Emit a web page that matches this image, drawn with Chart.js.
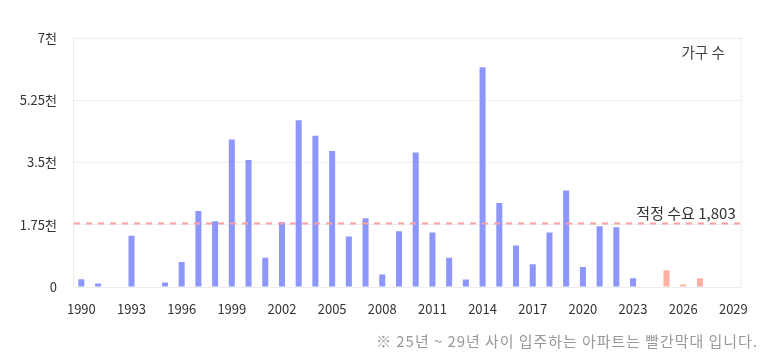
<!DOCTYPE html>
<html>
<head>
<meta charset="utf-8">
<script src="https://cdn.jsdelivr.net/npm/chart.js@4.4.1/dist/chart.umd.min.js"></script>
<style>
html,body{margin:0;padding:0;background:#fff;}
#wrap{width:762px;height:361px;position:relative;}
</style>
</head>
<body>
<div id="wrap"><canvas id="c" width="762" height="361"></canvas></div>
<script>
const years = [];
for (let y = 1990; y <= 2029; y++) years.push(String(y));

const pastSupply = [220, 95, 0, 1441, 0, 130, 700, 2140, 1850, 4150,
  3570, 820, 1820, 4690, 4250, 3820, 1420, 1930, 350, 1570,
  3780, 1530, 820, 210, 6180, 2360, 1170, 640, 1530, 2710,
  560, 1710, 1680, 245, 0, null, null, null, null, null];
const futureSupply = [null, null, null, null, null, null, null, null, null, null,
  null, null, null, null, null, null, null, null, null, null,
  null, null, null, null, null, null, null, null, null, null,
  null, null, null, null, null, 470, 70, 245, 0, 0];

const yTicks = [0, 1750, 3500, 5250, 7000];
const yTickLabels = ['0', '1.75천', '3.5천', '5.25천', '7천'];
const demand = 1803;
const demandLabel = '적정 수요 1,803';
const unitLabel = '가구 수';
const footnote = '※ 25년 ~ 29년 사이 입주하는 아파트는 빨간막대 입니다.';

const FONT = '"Noto Sans CJK KR", "Noto Sans", sans-serif';

function fitText(ctx, text, right, y, width) {
  const w = ctx.measureText(text).width;
  const n = [...text].length;
  const ls = Math.max(0, (width - w) / n);
  ctx.letterSpacing = ls.toFixed(2) + 'px';
  ctx.textAlign = 'left';
  const w2 = ctx.measureText(text).width;
  ctx.fillText(text, right - w2 + ls, y);
  ctx.letterSpacing = '0px';
}

const overlay = {
  id: 'overlay',
  beforeDatasetsDraw(chart) {
    const {ctx, chartArea: a} = chart;
    ctx.save();
    ctx.strokeStyle = '#ececec';
    ctx.lineWidth = 1;
    ctx.strokeRect(a.left + 0.5, a.top + 0.5, a.right - a.left - 1, a.bottom - a.top);
    ctx.restore();
  },
  afterDatasetsDraw(chart) {
    const {ctx, chartArea: a, scales} = chart;
    const y = Math.round(scales.y.getPixelForValue(demand)) + 0.5;
    ctx.save();
    ctx.strokeStyle = '#ff9f9f';
    ctx.lineWidth = 2;
    ctx.setLineDash([6, 6]);
    ctx.beginPath();
    ctx.moveTo(a.left + 1, y);
    ctx.lineTo(a.right, y);
    ctx.stroke();
    ctx.setLineDash([]);
    ctx.fillStyle = '#333';
    ctx.font = '15px ' + FONT;
    ctx.textAlign = 'right';
    ctx.textBaseline = 'bottom';
    ctx.fillText(demandLabel, a.right - 6, y - 3);
    ctx.fillStyle = '#444';
    ctx.font = '14.5px ' + FONT;
    ctx.textBaseline = 'middle';
    ctx.fillText(unitLabel, a.right - 17, a.top + 14);
    ctx.fillStyle = '#999';
    ctx.font = '15px ' + FONT;
    fitText(ctx, footnote, 757, 341, 382);
    ctx.restore();
  }
};

new Chart(document.getElementById('c'), {
  type: 'bar',
  data: {
    labels: years,
    datasets: [
      {data: pastSupply, backgroundColor: '#8d97fb', borderWidth: 0,
       categoryPercentage: 1, barPercentage: 0.36, grouped: false},
      {data: futureSupply, backgroundColor: '#ffb0a3', borderWidth: 0,
       categoryPercentage: 1, barPercentage: 0.36, grouped: false}
    ]
  },
  options: {
    responsive: false,
    animation: false,
    layout: {padding: {top: 38, right: 17, bottom: 0, left: 0}},
    plugins: {legend: {display: false}, tooltip: {enabled: false}},
    scales: {
      x: {
        grid: {display: false, drawTicks: false},
        border: {color: '#dcdcdc'},
        ticks: {
          autoSkip: false, maxRotation: 0, padding: 14,
          color: '#333', font: {family: FONT, size: 13},
          callback(v, i) { return (Number(years[i]) - 1990) % 3 === 0 ? years[i] : ''; }
        },
        afterFit(s) { s.height = 74; }
      },
      y: {
        min: 0, max: 7000,
        grid: {color: '#efefef', drawTicks: false},
        border: {display: false},
        afterBuildTicks(s) { s.ticks = yTicks.map(v => ({value: v})); },
        ticks: {
          padding: 16, color: '#333', font: {family: FONT, size: 13},
          callback(v) { return yTickLabels[yTicks.indexOf(v)]; }
        },
        afterFit(s) { s.width = 73; }
      }
    }
  },
  plugins: [overlay]
});
</script>
</body>
</html>
